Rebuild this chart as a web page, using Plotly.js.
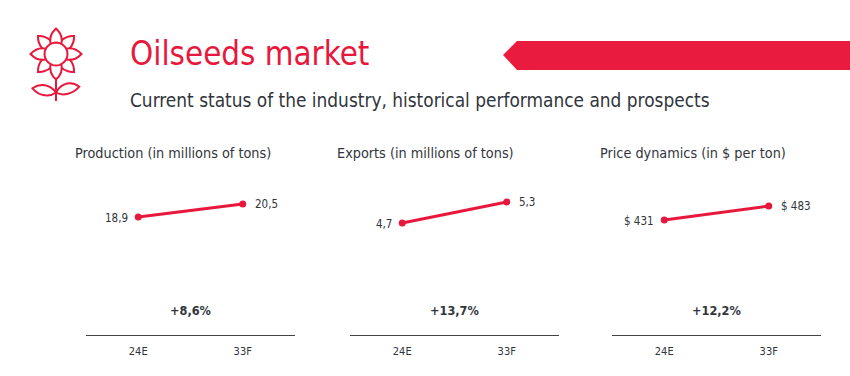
<!DOCTYPE html>
<html><head><meta charset="utf-8">
<script src="https://cdn.plot.ly/plotly-3.0.1.min.js"></script>
<style>html,body{margin:0;padding:0;background:#fff;overflow:hidden}</style></head>
<body><div id="chart" style="width:850px;height:376px"></div>
<script>
const categories = ['24E','33F'];
const panelTitles = ['Production (in millions of tons)','Exports (in millions of tons)','Price dynamics (in $ per ton)'];
const production = [18.9,20.5];
const exportsVol = [4.7,5.3];
const price = [431,483];
const productionLabels = ['18,9','20,5'];
const exportsLabels = ['4,7','5,3'];
const priceLabels = ['$ 431','$ 483'];
const growth = ['+8,6%','+13,7%','+12,2%'];
const yRanges = [[4.37,24.8],[1.5,6.24],[3.7,620.7]];
const title = 'Oilseeds market';
const subtitle = 'Current status of the industry, historical performance and prospects';

const W=850,H=376,FONT='"DejaVu Sans Condensed", "DejaVu Sans", sans-serif',RED='#E8183C',INK='#30353B';
const px=x=>(x/W).toFixed(4), py=y=>(1-y/H).toFixed(4);
const panels=[[86,295,75],[350,559,337],[612,821,600]];
const series=[production,exportsVol,price], labels=[productionLabels,exportsLabels,priceLabels];
const data=[],layout={width:W,height:H,margin:{l:0,r:0,t:0,b:0},paper_bgcolor:'#fff',plot_bgcolor:'#fff',
  showlegend:false,font:{family:FONT,color:INK},annotations:[],shapes:[]};
const note=(o)=>layout.annotations.push(Object.assign({showarrow:false},o));
panels.forEach((p,i)=>{
  const s=i?String(i+1):'';
  data.push({x:categories,y:series[i],xaxis:'x'+s,yaxis:'y'+s,type:'scatter',mode:'lines+markers',
    line:{color:RED,width:3},marker:{color:RED,size:7},hoverinfo:'skip',cliponaxis:false});
  layout['xaxis'+s]={domain:[p[0]/W,p[1]/W],type:'category',range:[-0.5,1.5],anchor:'y'+s,showgrid:false,zeroline:false,
    showline:true,linecolor:'#444',linewidth:1.4,ticks:'outside',ticklen:5,tickcolor:'rgba(0,0,0,0)',tickfont:{size:11,color:INK,family:FONT},fixedrange:true};
  layout['yaxis'+s]={domain:[1-335/H,1-169/H],range:yRanges[i],anchor:'x'+s,visible:false,fixedrange:true};
  const xr='x'+s,yr='y'+s;
  note({xref:xr,yref:yr,x:categories[0],y:series[i][0],text:labels[i][0],xanchor:'right',xshift:-8,yshift:-1,font:{size:11.5,color:INK}});
  note({xref:xr,yref:yr,x:categories[1],y:series[i][1],text:labels[i][1],xanchor:'left',xshift:10,font:{size:11.5,color:INK}});
  note({xref:'paper',yref:'paper',x:(p[2]-2)/W,y:1-153/H,text:panelTitles[i],xanchor:'left',yanchor:'middle',font:{size:14.3,color:INK}});
  note({xref:'paper',yref:'paper',x:(p[0]+p[1])/2/W,y:1-310/H,text:'<b>'+growth[i]+'</b>',xanchor:'center',yanchor:'middle',font:{size:12.6,color:INK}});
});
note({xref:'paper',yref:'paper',x:128/W,y:1-54/H,text:title,xanchor:'left',yanchor:'middle',font:{size:32.8,color:RED}});
note({xref:'paper',yref:'paper',x:128/W,y:1-100/H,text:subtitle,xanchor:'left',yanchor:'middle',font:{size:18.9,color:INK}});

// Banner
layout.shapes.push({type:'path',xref:'paper',yref:'paper',line:{width:0},fillcolor:'#E91C3F',
  path:`M${px(503)} ${py(55)} L${px(517)} ${py(41)} L${px(850)} ${py(41)} L${px(850)} ${py(70)} L${px(517)} ${py(70)} Z`});

// Sunflower icon
const cx=56,cy=54;
const iconLine={color:RED,width:2};
const pt=(r,deg)=>{const a=deg*Math.PI/180;return `${px(cx+r*Math.cos(a))} ${py(cy+r*Math.sin(a))}`};
const icon=d=>layout.shapes.push({type:'path',xref:'paper',yref:'paper',line:iconLine,fillcolor:'rgba(0,0,0,0)',path:d});
let circ='';for(let a=0;a<=360;a+=15){circ+=(a?'L':'M')+pt(11.5,a)+' ';}
icon(circ+'Z');
for(let k=0;k<8;k++){
  const a=-90+45*k;
  if(k%2===0){
    icon(`M${pt(11.5,a-28)} Q${pt(20,a-22)} ${pt(25.5,a)} Q${pt(20,a+22)} ${pt(11.5,a+28)}`);
  }else{
    icon(`M${pt(14.5,a-24)} Q${pt(21.5,a-14)} ${pt(25.5,a)} Q${pt(21.5,a+14)} ${pt(14.5,a+24)}`);
  }
}
const P=(x,y)=>`${px(x)} ${py(y)}`;
icon(`M${P(56,79)} L${P(56,101)}`);
icon(`M${P(56,92.5)} C${P(50,84)} ${P(40,83)} ${P(32.5,88.3)} C${P(40,97)} ${P(50,97)} ${P(56,92.5)}`);
icon(`M${P(56,92.5)} C${P(62,82)} ${P(72,81)} ${P(79.3,86.7)} C${P(72,95)} ${P(62,96)} ${P(56,92.5)}`);

Plotly.newPlot('chart',data,layout,{displayModeBar:false,staticPlot:true});
</script></body></html>
